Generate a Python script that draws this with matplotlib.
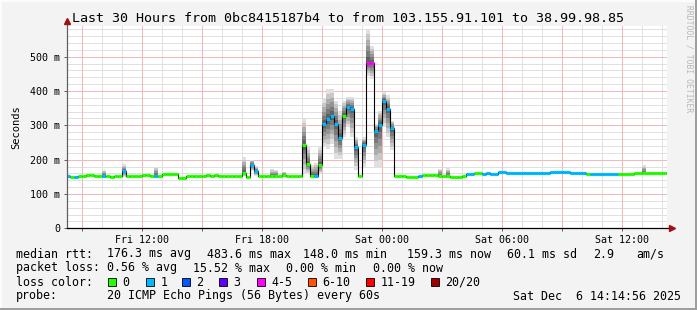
import matplotlib
matplotlib.use("Agg")
import matplotlib.pyplot as plt
from matplotlib.patches import Rectangle

W, H = 697, 310

# time axis in hours since Fri 00:00, data in 12 min steps
data_start = 8.2
step = 0.2
view = (8.267, 38.267)

# median rtt per step (ms)
median = [
    152, 150, 149, 151, 151, 155, 155, 151, 151, 152,
    151, 149, 151, 151, 167, 151, 151, 151, 151, 155,
    155, 151, 152, 152, 157, 157, 157, 157, 147, 147,
    151, 151, 151, 153, 153, 155, 151, 155, 151, 151,
    151, 151, 152, 152, 162, 149, 184, 167, 152, 152,
    152, 152, 152, 152, 156, 152, 152, 152, 152, 243,
    188, 152, 152, 185, 303, 319, 328, 305, 264, 328,
    354, 349, 238, 152, 244, 483, 483, 283, 302, 372,
    349, 291, 152, 152, 152, 149, 149, 149, 152, 155,
    156, 156, 156, 152, 152, 152, 150, 150, 150, 152,
    158, 158, 160, 160, 158, 160, 158, 158, 164, 164,
    160, 160, 160, 160, 160, 160, 160, 160, 160, 160,
    160, 163, 163, 163, 163, 163, 161, 161, 161, 161,
    158, 158, 158, 158, 157, 157, 157, 157, 158, 158,
    158, 158, 160, 160, 160, 162, 162, 162, 162, 162,
    162,
]

# lost pings (of 20) per step
loss = [
    1, 0, 1, 0, 0, 0, 0, 0, 0, 1,
    0, 0, 0, 0, 1, 0, 0, 0, 0, 0,
    0, 0, 1, 0, 0, 0, 0, 0, 0, 0,
    0, 0, 0, 0, 0, 0, 0, 0, 0, 0,
    0, 0, 0, 0, 0, 0, 1, 1, 0, 0,
    0, 0, 0, 0, 0, 0, 0, 0, 0, 0,
    0, 0, 1, 0, 1, 1, 1, 1, 1, 0,
    1, 1, 1, 0, 1, 5, 5, 1, 1, 1,
    1, 1, 0, 0, 0, 0, 0, 0, 1, 0,
    0, 0, 0, 0, 0, 0, 0, 0, 0, 0,
    1, 1, 0, 0, 1, 1, 1, 1, 1, 1,
    1, 1, 1, 1, 1, 1, 1, 1, 1, 1,
    1, 1, 1, 1, 1, 1, 1, 1, 1, 1,
    0, 1, 1, 1, 1, 1, 1, 1, 0, 0,
    0, 0, 0, 0, 0, 0, 0, 0, 0, 0,
    0,
]

# smoke (spread of the 20 pings) where it shows
smoke_step = [9, 14, 22, 44, 46, 47, 51, 52, 54, 59, 60, 61, 62, 63, 64, 65, 66,
              67, 68, 69, 70, 71, 72, 74, 75, 76, 77, 78, 79, 80, 81, 93, 95, 144]
smoke_lo = [152, 149, 152, 152, 167, 152, 152, 152, 152, 160, 159, 152, 152, 159,
            236, 232, 246, 203, 203, 265, 294, 265, 169, 178, 445, 436, 177, 178,
            294, 265, 227, 152, 152, 158]
smoke_hi = [169, 186, 180, 208, 200, 181, 172, 170, 165, 320, 236, 184, 190, 236,
            377, 406, 406, 372, 343, 372, 382, 382, 265, 265, 581, 532, 305, 343,
            396, 387, 314, 174, 175, 183]

loss_labels = ["0", "1", "2", "3", "4-5", "6-10", "11-19", "20/20"]
loss_colors = ["#26ff00", "#00b8ff", "#0059ff", "#5e00ff", "#ff00ff",
               "#ff5500", "#ff0000", "#a00000"]

tick_hours = [12, 18, 24, 30, 36]
tick_names = ["Fri 12:00", "Fri 18:00", "Sat 00:00", "Sat 06:00", "Sat 12:00"]

stats_rtt = ["176.3 ms avg", "483.6 ms max", "148.0 ms min", "159.3 ms now",
             "60.1 ms sd", "2.9", "am/s"]
stats_loss = ["0.56 % avg", "15.52 % max", "0.00 % min", "0.00 % now"]


def loss_class(n):
    if n <= 3:
        return n
    if n <= 5:
        return 4
    if n <= 10:
        return 5
    if n <= 19:
        return 6
    return 7


def fx(px):
    return px / W


def fy(py):
    return 1 - py / H


plt.rcParams["font.family"] = "DejaVu Sans Mono"

fig = plt.figure(figsize=(W / 100, H / 100), dpi=100, facecolor="#f3f3f3")
ax = fig.add_axes([fx(67), fy(228.3), fx(600), 202.5 / H])
ax.set_facecolor("white")
ax.set_xlim(*view)
ax.set_ylim(0, 590)

# grid: gray every hour / 20 ms, red every 3 hours / 100 ms
for h in range(9, 39):
    major = h % 3 == 0
    ax.axvline(h, color="#f4b8b8" if major else "#e0e0e0", linewidth=0.72,
               antialiased=False, zorder=0.6 if major else 0.5)
for v in range(20, 590, 20):
    major = v % 100 == 0
    ax.axhline(v, color="#f4b8b8" if major else "#e0e0e0", linewidth=0.72,
               antialiased=False, zorder=0.6 if major else 0.5)

ax.set_xticks(range(9, 39, 3),
              labels=[tick_names[tick_hours.index(h)] if h in tick_hours else ""
                      for h in range(9, 39, 3)])
ax.set_yticks(range(0, 600, 100),
              labels=["0"] + [f"{v} m" for v in range(100, 600, 100)])
ax.tick_params(axis="both", labelsize=7.2, length=2, width=0.7,
               color="#606060", pad=3)
for s in ax.spines.values():
    s.set_visible(False)

# smoke
for k, lo, hi in zip(smoke_step, smoke_lo, smoke_hi):
    t0 = data_start + k * step
    m = median[k]
    n = 6
    for j in range(n):
        f = 1 - j / n
        g = 0.88 - 0.5 * j / (n - 1)
        ax.fill_between([t0, t0 + step], m - (m - lo) * f, m + (hi - m) * f,
                        color=(g, g, g), linewidth=0, zorder=2)

# median: black step line plus loss-coloured segments
xs, ys = [], []
for k, m in enumerate(median):
    t0 = data_start + k * step
    xs += [t0, t0 + step]
    ys += [m, m]
ax.plot(xs, ys, color="black", linewidth=0.8, zorder=3)
for k, m in enumerate(median):
    t0 = data_start + k * step
    ax.plot([t0, t0 + step], [m, m], color=loss_colors[loss_class(loss[k])],
            linewidth=2.3, solid_capstyle="butt", zorder=4)

# axes lines and arrows
ax.plot([0, 0], [0, 1.022], transform=ax.transAxes, color="#606060",
        linewidth=0.9, clip_on=False, zorder=5)
ax.plot([0, 1.006], [0, 0], transform=ax.transAxes, color="black",
        linewidth=0.9, clip_on=False, zorder=5)
ax.plot([0], [1.025], marker="^", markersize=4, color="#a01010",
        transform=ax.transAxes, clip_on=False, zorder=6)
ax.plot([1.008], [0], marker=">", markersize=4, color="#a01010",
        transform=ax.transAxes, clip_on=False, zorder=6)

ax.set_ylabel("Seconds", fontsize=7.5, labelpad=6)

# title and watermark
fig.text(0.5, fy(19), "Last 30 Hours from 0bc8415187b4 to from 103.155.91.101 to 38.99.98.85",
         ha="center", va="center", fontsize=9.6)
fig.text(fx(688.5), fy(59), "RRDTOOL / TOBI OETIKER", rotation=-90,
         ha="center", va="center", fontsize=5.8, color="#b8b8b8")

# legend rows
fs = 8.4
fig.text(fx(16), fy(254), "median rtt:", fontsize=fs, va="center")
for x, s in zip([107, 207, 303, 407, 507, 593, 636], stats_rtt):
    fig.text(fx(x), fy(254), s, fontsize=fs, va="center")
fig.text(fx(16), fy(268), "packet loss:", fontsize=fs, va="center")
for x, s in zip([107, 193, 286, 373], stats_loss):
    fig.text(fx(x), fy(268), s, fontsize=fs, va="center")
fig.text(fx(16), fy(282), "loss color:", fontsize=fs, va="center")
box_x = [108, 146, 182, 219, 257, 308, 366, 431]
for x, lab, col in zip(box_x, loss_labels, loss_colors):
    fig.add_artist(Rectangle((fx(x), fy(286)), fx(8), 8 / H, transform=fig.transFigure,
                             facecolor=col, edgecolor="black", linewidth=0.6))
    fig.text(fx(x + 14.5), fy(282), lab, fontsize=fs, va="center")
fig.text(fx(16), fy(296), "probe:", fontsize=fs, va="center")
fig.text(fx(107), fy(296), "20 ICMP Echo Pings (56 Bytes) every 60s", fontsize=fs, va="center")
fig.text(fx(513), fy(296), "Sat Dec  6 14:14:56 2025", fontsize=fs, va="center")

# frame shading
fig.add_artist(Rectangle((0, 0), fx(2), 1, transform=fig.transFigure,
                         facecolor="#fcfcfc", edgecolor="none"))
fig.add_artist(Rectangle((0, fy(2)), 1, 2 / H, transform=fig.transFigure,
                         facecolor="#fcfcfc", edgecolor="none"))
fig.add_artist(Rectangle((fx(W - 2), 0), fx(2), 1, transform=fig.transFigure,
                         facecolor="#9e9e9e", edgecolor="none"))
fig.add_artist(Rectangle((0, 0), 1, 2 / H, transform=fig.transFigure,
                         facecolor="#9e9e9e", edgecolor="none"))

fig.savefig("out.png", dpi=100, facecolor=fig.get_facecolor())
